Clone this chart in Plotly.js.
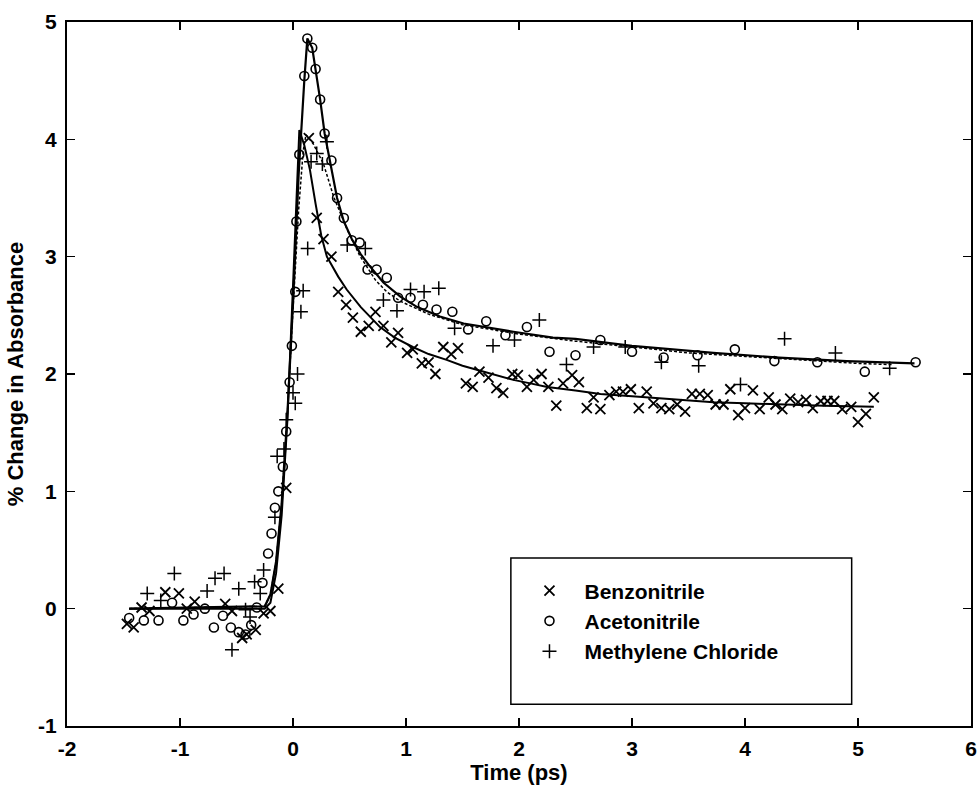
<!DOCTYPE html>
<html>
<head>
<meta charset="utf-8">
<script src="https://cdn.plot.ly/plotly-3.0.1.min.js"></script>
<style>html,body{margin:0;padding:0;background:#fff;}#chart{width:979px;height:790px;}</style>
</head>
<body>
<div id="chart"></div>
<script>
// Benzonitrile data (x markers)
const benzX = [-1.47,-1.41,-1.34,-1.27,-1.13,-1.01,-0.94,-0.87,-0.60,-0.54,-0.45,-0.41,-0.33,-0.26,-0.20,-0.13,-0.06,0.14,
  0.21,0.27,0.34,0.40,0.47,0.53,0.60,0.67,0.73,0.80,0.87,0.93,1.01,1.06,1.14,1.20,1.26,1.33,1.40,1.46,1.53,1.59,1.65,1.73,1.80,1.86,1.94,1.99,
  2.07,2.13,2.20,2.26,2.33,2.39,2.47,2.53,2.60,2.66,2.72,2.80,2.86,2.92,2.99,3.06,3.13,3.19,3.26,3.33,3.40,3.47,3.53,3.60,3.67,3.74,3.81,3.87,3.94,
  4.00,4.07,4.13,4.21,4.27,4.33,4.40,4.47,4.54,4.60,4.67,4.73,4.79,4.86,4.94,5.00,5.07,5.14];
const benzY = [-0.13,-0.16,0.01,-0.02,0.14,0.13,0.00,0.06,0.04,-0.02,-0.25,-0.22,-0.18,-0.04,-0.02,0.17,1.03,4.01,
  3.33,3.15,3.00,2.70,2.59,2.48,2.36,2.41,2.53,2.41,2.27,2.35,2.18,2.21,2.09,2.10,2.00,2.23,2.17,2.22,1.92,1.89,2.02,1.97,1.88,1.84,2.00,1.99,
  1.89,1.95,2.00,1.89,1.73,1.92,1.99,1.93,1.71,1.80,1.70,1.82,1.85,1.85,1.87,1.71,1.85,1.75,1.71,1.70,1.74,1.68,1.83,1.83,1.82,1.74,1.74,1.87,1.65,
  1.71,1.86,1.70,1.80,1.74,1.70,1.79,1.76,1.78,1.71,1.77,1.77,1.77,1.70,1.72,1.59,1.66,1.80];

// Acetonitrile data (o markers)
const acetoX = [-1.45,-1.32,-1.19,-1.07,-0.97,-0.88,-0.78,-0.70,-0.62,-0.55,-0.48,-0.42,-0.37,-0.32,-0.27,-0.22,-0.19,-0.16,-0.13,-0.09,-0.06,-0.03,-0.01,
  0.02,0.03,0.056,0.10,0.127,0.17,0.20,0.24,0.28,0.34,0.39,0.45,0.52,0.59,0.66,0.74,0.83,0.93,1.04,1.15,1.27,1.41,1.55,1.71,1.88,2.07,2.27,2.50,2.72,
  3.00,3.28,3.58,3.91,4.26,4.64,5.06,5.51];
const acetoY = [-0.08,-0.10,-0.10,0.05,-0.10,-0.05,0.00,-0.16,-0.06,-0.16,-0.20,-0.22,-0.14,0.01,0.22,0.47,0.64,0.86,1.00,1.21,1.51,1.93,2.24,
  2.70,3.30,3.87,4.54,4.86,4.78,4.60,4.34,4.05,3.82,3.50,3.33,3.14,3.12,2.89,2.89,2.82,2.65,2.65,2.59,2.55,2.53,2.38,2.45,2.33,2.40,2.19,2.16,2.29,
  2.19,2.14,2.16,2.21,2.11,2.10,2.02,2.10];

// Methylene Chloride data (+ markers)
const mcX = [-1.29,-1.17,-1.05,-0.76,-0.69,-0.61,-0.54,-0.48,-0.42,-0.38,-0.34,-0.29,-0.26,-0.16,-0.14,-0.08,-0.06,0.00,0.02,0.04,0.07,0.09,0.13,0.16,
  0.21,0.26,0.30,0.48,0.64,0.80,0.92,1.04,1.16,1.29,1.43,1.77,1.96,2.18,2.42,2.66,2.94,3.26,3.59,3.96,4.35,4.80,5.28];
const mcY = [0.13,0.07,0.30,0.15,0.26,0.30,-0.35,0.17,-0.01,-0.07,0.23,0.13,0.33,0.78,1.30,1.36,1.61,1.84,1.75,2.00,2.53,2.71,3.07,3.81,
  3.88,3.79,3.98,3.10,3.07,2.63,2.54,2.72,2.70,2.73,2.39,2.24,2.29,2.46,2.08,2.23,2.23,2.10,2.07,1.91,2.30,2.18,2.05];

// Fitted curves
const benzFitX = [-1.45,-0.25,-0.2,-0.15,-0.1,-0.05,0,0.03,0.056,0.1,0.15,0.2,0.25,0.3,0.4,0.475,0.6,0.77,0.9,1.06,1.2,1.36,1.5,1.65,1.8,1.95,2.1,2.25,2.5,2.72,3.0,3.3,3.72,4.0,4.31,4.7,5.14];
const benzFitY = [0,0,0.05,0.3,0.8,1.6,2.75,3.5,4.08,3.95,3.74,3.45,3.18,3.0,2.83,2.72,2.57,2.40,2.31,2.23,2.17,2.12,2.07,2.03,1.99,1.95,1.92,1.89,1.86,1.83,1.81,1.79,1.76,1.75,1.74,1.73,1.72];
const acetoFitX = [-1.45,-0.25,-0.2,-0.15,-0.1,-0.05,0,0.05,0.1,0.127,0.17,0.2,0.24,0.28,0.34,0.39,0.45,0.52,0.6,0.67,0.8,0.95,1.1,1.3,1.51,1.75,1.95,2.3,2.5,3.0,3.72,4.3,4.9,5.5];
const acetoFitY = [0,0.02,0.12,0.4,0.9,1.65,2.6,3.7,4.5,4.86,4.78,4.6,4.34,4.05,3.75,3.5,3.3,3.15,3.02,2.93,2.78,2.66,2.57,2.49,2.43,2.39,2.36,2.31,2.30,2.24,2.18,2.14,2.11,2.09];
const mcFitX = [-1.45,-0.25,-0.2,-0.15,-0.1,-0.05,0,0.05,0.09,0.115,0.18,0.27,0.36,0.475,0.59,0.73,0.83,0.95,1.2,1.5,2.0,2.5,3.0,3.5,4.0,4.5,5.0,5.3];
const mcFitY = [0,0.02,0.12,0.4,0.9,1.65,2.55,3.4,3.9,4.04,3.96,3.79,3.51,3.24,3.01,2.80,2.70,2.62,2.51,2.42,2.34,2.28,2.23,2.18,2.15,2.12,2.09,2.08];

const names = ['Benzonitrile','Acetonitrile','Methylene Chloride'];
const xTicks = [-2,-1,0,1,2,3,4,5,6];
const yTicks = [-1,0,1,2,3,4,5];

const FONT = 'Liberation Sans, Arial, Helvetica, sans-serif';
const traces = [
  {x: benzFitX, y: benzFitY, mode:'lines', line:{color:'#000', width:2}, showlegend:false, hoverinfo:'skip'},
  {x: acetoFitX, y: acetoFitY, mode:'lines', line:{color:'#000', width:2.2}, showlegend:false, hoverinfo:'skip'},
  {x: mcFitX, y: mcFitY, mode:'lines', line:{color:'#000', width:1.5, dash:'3px,2px'}, showlegend:false, hoverinfo:'skip'},
  {x: benzX, y: benzY, name:names[0], mode:'markers', marker:{symbol:'x-thin-open', size:10, color:'#000', line:{color:'#000', width:1.8}}},
  {x: acetoX, y: acetoY, name:names[1], mode:'markers', marker:{symbol:'circle-open', size:9, color:'#000', line:{color:'#000', width:1.6}}},
  {x: mcX, y: mcY, name:names[2], mode:'markers', marker:{symbol:'cross-thin-open', size:10, color:'#000', line:{color:'#000', width:1.5}}}
];

const axisCommon = {
  showgrid:false, zeroline:false, showline:true, linecolor:'#000', linewidth:2,
  mirror:'ticks', ticks:'inside', ticklen:8, tickwidth:1.5, tickcolor:'#000',
  tickfont:{family:FONT, size:21, color:'#000', weight:'bold'}
};

const layout = {
  width:979, height:790,
  margin:{l:67, r:8, t:22, b:64},
  paper_bgcolor:'#fff', plot_bgcolor:'#fff',
  font:{family:FONT, color:'#000'},
  xaxis: Object.assign({}, axisCommon, {range:[-2,6], tickvals:xTicks, ticktext:xTicks.map(String), ticklabelstandoff:3,
    title:{text:'Time (ps)', font:{family:FONT, size:22, color:'#000', weight:'bold'}, standoff:4}}),
  yaxis: Object.assign({}, axisCommon, {range:[-1,5], tickvals:yTicks, ticktext:yTicks.map(String), ticklabelstandoff:4,
    title:{text:'% Change in Absorbance', font:{family:FONT, size:22, color:'#000', weight:'bold'}, standoff:8}}),
  legend:{x:0.495, y:0.221, xanchor:'left', yanchor:'top', bgcolor:'rgba(0,0,0,0)', borderwidth:0,
    font:{family:FONT, size:21, color:'#000', weight:'bold'}, itemwidth:60, tracegroupgap:0},
  shapes:[{type:'rect', xref:'paper', yref:'paper', x0:0.491, x1:0.868, y0:0.031, y1:0.2386,
    line:{color:'#000', width:1.5}, fillcolor:'rgba(0,0,0,0)', layer:'above'}],
  showlegend:true
};

Plotly.newPlot('chart', traces, layout, {displayModeBar:false, staticPlot:true});
</script>
</body>
</html>
